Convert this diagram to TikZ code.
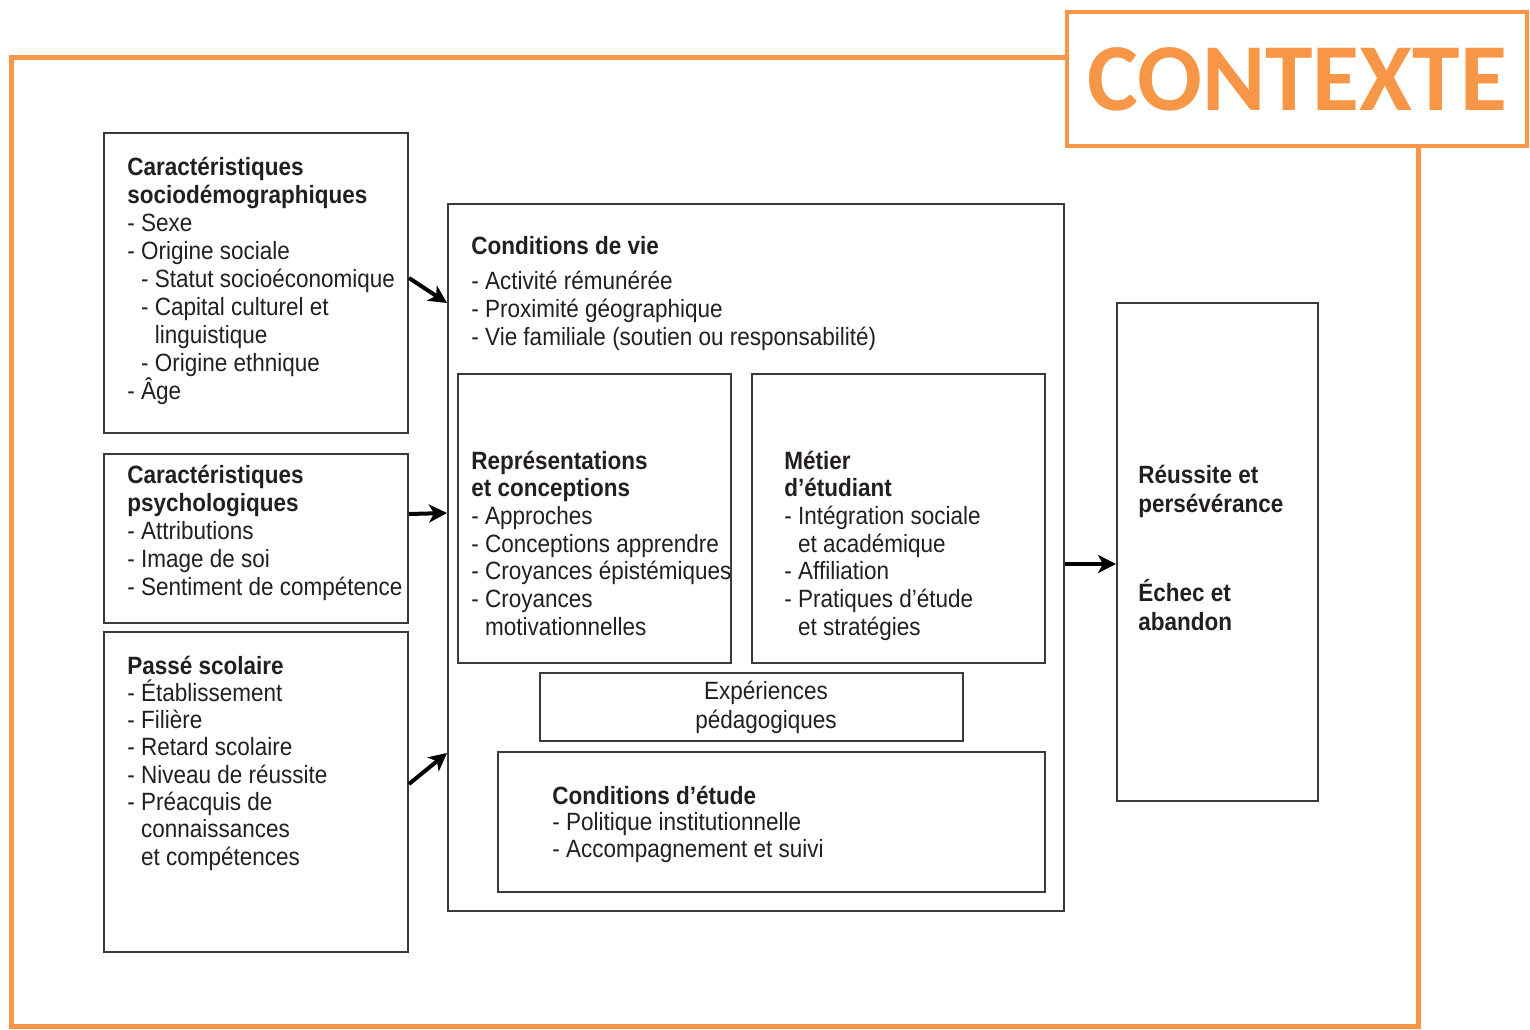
\documentclass[tikz,border=0pt]{standalone}
\usepackage{fontspec}
\setmainfont{Liberation Sans}[FakeStretch=0.9]
\newfontfamily\ctxfont{Carlito}
\usetikzlibrary{arrows.meta,calc}
\definecolor{ora}{HTML}{F79646}
\definecolor{ink}{HTML}{231F20}
\definecolor{bord}{HTML}{3A3A3A}
\newcommand\blk[2]{\vtop{\baselineskip=#1pt\lineskiplimit=-20pt\lineskip=0pt\halign{##\hfil\cr#2\crcr}}}
\newcommand\cblk[2]{\vtop{\baselineskip=#1pt\lineskiplimit=-20pt\lineskip=0pt\halign{\hfil##\hfil\cr#2\crcr}}}
\newcommand\ind{\phantom{- }}
\tikzset{
  bx/.style={draw=bord, line width=1pt, anchor=north west, inner sep=0pt, rectangle},
  txt/.style={anchor=base west, inner sep=0pt, text=ink, font=\fontsize{12.5}{14}\selectfont},
  arr/.style={line width=2pt, draw=black, -{Stealth[length=9pt,width=9pt,inset=2.5pt]}},
}
\begin{document}
\begin{tikzpicture}[x=0.5pt,y=-0.5pt]
\useasboundingbox (0,0) rectangle (1530,1029);
% CONTEXTE
\node[draw=ora, line width=2pt, minimum width=230pt, minimum height=67pt, inner sep=0pt,
      text=ora, font=\ctxfont\bfseries\fontsize{48}{50}\selectfont] (ctx) at (1297,79) {CONTEXTE};
\draw[ora, line width=2.5pt, line join=miter] (ctx.west |- 0,57) -- (11,57) -- (11,1026.5) -- (1418,1026.5) -- (1418,146);
% boxes
\node[bx, minimum width=152pt, minimum height=150pt] (sd) at (103,132) {};
\node[bx, minimum width=152pt, minimum height=84.5pt] (ps) at (103,453) {};
\node[bx, minimum width=152pt, minimum height=160pt] (pa) at (103,631) {};
\node[bx, minimum width=308pt, minimum height=353.5pt] (cv) at (447,203) {};
\node[bx, minimum width=136.5pt, minimum height=144.5pt] (rc) at (457,373) {};
\node[bx, minimum width=146.5pt, minimum height=144.5pt] (me) at (751,373) {};
\node[bx, minimum width=211.5pt, minimum height=34pt] (ex) at (539,672) {};
\node[bx, minimum width=273.5pt, minimum height=70pt] (ce) at (497,751) {};
\node[bx, minimum width=100.5pt, minimum height=249pt] (rs) at (1116,302) {};
% texts
\node[txt] (tsd) at (127,175) {\blk{14}{%
\textbf{Caractéristiques}\cr
\textbf{sociodémographiques}\cr
- Sexe\cr
- Origine sociale\cr
\ind- Statut socioéconomique\cr
\ind- Capital culturel et\cr
\ind\ind linguistique\cr
\ind- Origine ethnique\cr
- Âge}};
\node[txt] (tps) at (127,483) {\blk{14.1}{%
\textbf{Caractéristiques}\cr
\textbf{psychologiques}\cr
- Attributions\cr
- Image de soi\cr
- Sentiment de compétence}};
\node[txt] (tpa) at (127,674) {\blk{13.65}{%
\textbf{Passé scolaire}\cr
- Établissement\cr
- Filière\cr
- Retard scolaire\cr
- Niveau de réussite\cr
- Préacquis de\cr
\ind connaissances\cr
\ind et compétences}};
\node[txt] (tcv) at (471,254) {\blk{14}{%
\textbf{Conditions de vie}\cr\noalign{\kern3.5pt}
- Activité rémunérée\cr
- Proximité géographique\cr
- Vie familiale (soutien ou responsabilité)}};
\node[txt] (trc) at (471,469) {\blk{13.85}{%
\textbf{Représentations}\cr
\textbf{et conceptions}\cr
- Approches\cr
- Conceptions apprendre\cr
- Croyances épistémiques\cr
- Croyances\cr
\ind motivationnelles}};
\node[txt] (tme) at (784,469) {\blk{13.85}{%
\textbf{Métier}\cr
\textbf{d’étudiant}\cr
- Intégration sociale\cr
\ind et académique\cr
- Affiliation\cr
- Pratiques d’étude\cr
\ind et stratégies}};
\node[txt, anchor=base] (tex) at (766,699) {\cblk{14.5}{%
Expériences\cr
pédagogiques}};
\node[txt] (tce) at (552,804) {\blk{13.25}{%
\textbf{Conditions d’étude}\cr
- Politique institutionnelle\cr
- Accompagnement et suivi}};
\node[txt] (trs) at (1138,483) {\blk{14.5}{%
\textbf{Réussite et}\cr
\textbf{persévérance}\cr\noalign{\kern30pt}
\textbf{Échec et}\cr
\textbf{abandon}}};
% arrows
\draw[arr] ($(sd.east)+(0,-5)$) -- ($(cv.north west)+(0,100)$);
\draw[arr] ($(ps.east)+(0,-24.5)$) -- ($(cv.north west)+(0,310)$);
\draw[arr] ($(pa.east)+(0,-8)$) -- ($(cv.north west)+(0,550)$);
\draw[arr] ($(cv.east)+(0,6.5)$) -- ($(rs.west)+(0,12)$);
\end{tikzpicture}
\end{document}
